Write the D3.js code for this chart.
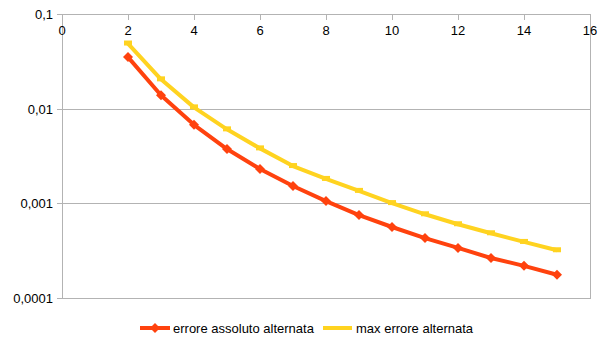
<!DOCTYPE html>
<html><head><meta charset="utf-8">
<script src="https://cdn.jsdelivr.net/npm/d3@7"></script>
<style>body{margin:0;background:#fff}svg{display:block;font-family:"Liberation Sans",Arial,sans-serif}</style>
</head><body><svg id="c" width="608" height="342"></svg>
<script>
const xValues = [2,3,4,5,6,7,8,9,10,11,12,13,14,15];
const errAssoluto = [0.0354,0.0140,0.0068,0.00377,0.00232,0.00153,0.00106,0.000755,0.000564,0.000431,0.000339,0.000265,0.000219,0.000176];
const maxErrore = [0.0493,0.0206,0.0104,0.00609,0.00383,0.00249,0.00182,0.00136,0.00101,0.000769,0.000603,0.000484,0.000392,0.00032];
const seriesNames = ["errore assoluto alternata","max errore alternata"];
const xTicks = [0,2,4,6,8,10,12,14,16];
const yTicks = [0.0001,0.001,0.01,0.1];
const yTickLabels = ["0,0001","0,001","0,01","0,1"];

const svg = d3.select("#c");
const L=62,R=590,T=14.5,B=298;
const x = d3.scaleLinear().domain([0,16]).range([L,R]);
const y = d3.scaleLog().domain([0.0001,0.1]).range([B,T]);
const grid="#b3b3b3";
const fs=13;

svg.append("g").selectAll("line").data(yTicks).join("line")
  .attr("x1",L-5).attr("x2",R).attr("y1",d=>y(d)).attr("y2",d=>y(d))
  .attr("stroke",grid).attr("stroke-width",1).attr("shape-rendering","crispEdges");
svg.append("rect").attr("x",L).attr("y",T).attr("width",R-L).attr("height",B-T)
  .attr("fill","none").attr("stroke",grid).attr("shape-rendering","crispEdges");
svg.append("g").selectAll("text").data(yTicks).join("text")
  .attr("x",53).attr("y",d=>y(d)).attr("dy","0.35em").attr("text-anchor","end")
  .attr("font-size",fs).attr("fill","#000").text((d,i)=>yTickLabels[i]);
svg.append("g").selectAll("line").data(xTicks).join("line")
  .attr("x1",d=>x(d)).attr("x2",d=>x(d)).attr("y1",T).attr("y2",T+5)
  .attr("stroke",grid).attr("shape-rendering","crispEdges");
svg.append("g").selectAll("text").data(xTicks).join("text")
  .attr("x",d=>x(d)).attr("y",T+16).attr("dy","0.35em").attr("text-anchor","middle")
  .attr("font-size",fs).attr("fill","#000").text(d=>d);

const line = d3.line().x(d=>x(d[0])).y(d=>y(d[1]));
const red="#ff420e", yel="#ffd320";
const d1 = xValues.map((v,i)=>[v,errAssoluto[i]]);
const d2 = xValues.map((v,i)=>[v,maxErrore[i]]);

svg.append("path").datum(d2).attr("d",line).attr("fill","none").attr("stroke",yel).attr("stroke-width",4).attr("stroke-linejoin","round");
svg.append("g").selectAll("rect").data(d2).join("rect")
  .attr("x",d=>x(d[0])-4).attr("y",d=>y(d[1])-3).attr("width",8).attr("height",5).attr("fill",yel);
svg.append("path").datum(d1).attr("d",line).attr("fill","none").attr("stroke",red).attr("stroke-width",4).attr("stroke-linejoin","round");
svg.append("g").selectAll("path").data(d1).join("path")
  .attr("transform",d=>`translate(${x(d[0])},${y(d[1])})`)
  .attr("d","M0,-5L5,0L0,5L-5,0Z").attr("fill",red);

const lg = svg.append("g");
lg.append("line").attr("x1",140).attr("x2",170).attr("y1",328).attr("y2",328).attr("stroke",red).attr("stroke-width",4);
lg.append("path").attr("transform","translate(155,328)").attr("d","M0,-5L5,0L0,5L-5,0Z").attr("fill",red);
lg.append("text").attr("x",173).attr("y",328).attr("dy","0.35em").attr("font-size",fs).text(seriesNames[0]);
lg.append("line").attr("x1",323).attr("x2",352).attr("y1",328).attr("y2",328).attr("stroke",yel).attr("stroke-width",4);
lg.append("text").attr("x",356).attr("y",328).attr("dy","0.35em").attr("font-size",fs).text(seriesNames[1]);
</script></body></html>
